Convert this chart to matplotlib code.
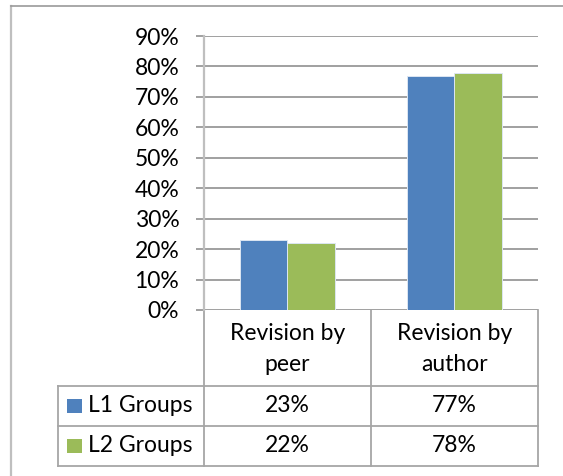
import matplotlib.pyplot as plt
import matplotlib.transforms as mtransforms
from matplotlib.patches import Rectangle

# data
categories = ['Revision by\npeer', 'Revision by\nauthor']
series_names = ['L1 Groups', 'L2 Groups']
l1_values = [0.23, 0.77]
l2_values = [0.22, 0.78]
y_ticks = [0.0, 0.1, 0.2, 0.3, 0.4, 0.5, 0.6, 0.7, 0.8, 0.9]

colors = ['#4F81BD', '#9BBB59']
W, H = 563, 476
FONT = 'Lato'
FS = 16.5

plt.rcParams['font.family'] = [FONT, 'DejaVu Sans']

fig = plt.figure(figsize=(W / 100, H / 100), dpi=100)

# plot area in pixel coords (from top-left)
px_left, px_right, px_top, px_bottom = 204, 537.7, 36, 310
ax = fig.add_axes([px_left / W, 1 - px_bottom / H,
                   (px_right - px_left) / W, (px_bottom - px_top) / H])

# overlay in pixel coords for the data table and frame
ov = fig.add_axes([0, 0, 1, 1], zorder=-1)
ov.set_xlim(0, W)
ov.set_ylim(H, 0)
ov.axis('off')

x = list(range(len(categories)))
bw = 1 / 3.5
for i, (vals, col) in enumerate(zip([l1_values, l2_values], colors)):
    offs = [xi + (i - 0.5) * bw for xi in x]
    ax.bar(offs, vals, width=bw, color=col, edgecolor='#dce6f2', linewidth=0.7, zorder=3)

ax.set_xlim(-0.5, len(categories) - 0.5)
ax.set_ylim(0, 0.9)
ax.set_yticks(y_ticks)
ax.set_yticklabels([f'{int(round(t * 100))}%' for t in y_ticks], fontsize=FS, family=[FONT, 'DejaVu Sans'])
ax.set_xticks([])
ax.grid(axis='y', color='#868686', linewidth=1.1, zorder=0)
ax.tick_params(axis='y', length=5.8, width=1.1, color='#868686', pad=12)
for s in ['top', 'right', 'bottom']:
    ax.spines[s].set_visible(False)
ax.spines['left'].set_color('#BFBFBF')
ax.spines['left'].set_linewidth(1.6)

# outer chart frame (only left and top visible)
ov.plot([11, 11], [6, H + 5], color='#BFBFBF', lw=1.6)
ov.plot([11, W + 5], [6, 6], color='#999999', lw=1.2)

# data table
tcol = '#A6A6A6'
tl, tr = 57.7, 537.7
hdr_bottom, row1_bottom, tbl_bottom = 386, 425.5, 466
for yy in [hdr_bottom, row1_bottom, tbl_bottom]:
    ov.plot([tl, tr], [yy, yy], color=tcol, lw=1.3)
ov.plot([tl, tl], [hdr_bottom, tbl_bottom], color=tcol, lw=1.3)
for xx in [px_left, (px_left + px_right) / 2, tr]:
    ov.plot([xx, xx], [px_bottom, tbl_bottom], color=tcol, lw=1.3)

blend = mtransforms.blended_transform_factory(ax.transData, ov.transData)
for xi, cat in zip(x, categories):
    ov.text(xi, 349, cat, transform=blend, ha='center', va='center',
            fontsize=FS, linespacing=1.55)

row_centers = [(hdr_bottom + row1_bottom) / 2, (row1_bottom + tbl_bottom) / 2]
for rc, name, vals, col in zip(row_centers, series_names, [l1_values, l2_values], colors):
    ov.add_patch(Rectangle((67.3, rc - 7.2), 14.4, 14.4, facecolor=col, edgecolor='none'))
    ov.text(87.7, rc, name, ha='left', va='center', fontsize=FS)
    for xi, v in zip(x, vals):
        ov.text(xi, rc, f'{int(round(v * 100))}%', transform=blend,
                ha='center', va='center', fontsize=FS)

fig.savefig('out.png', dpi=100, facecolor='white')
